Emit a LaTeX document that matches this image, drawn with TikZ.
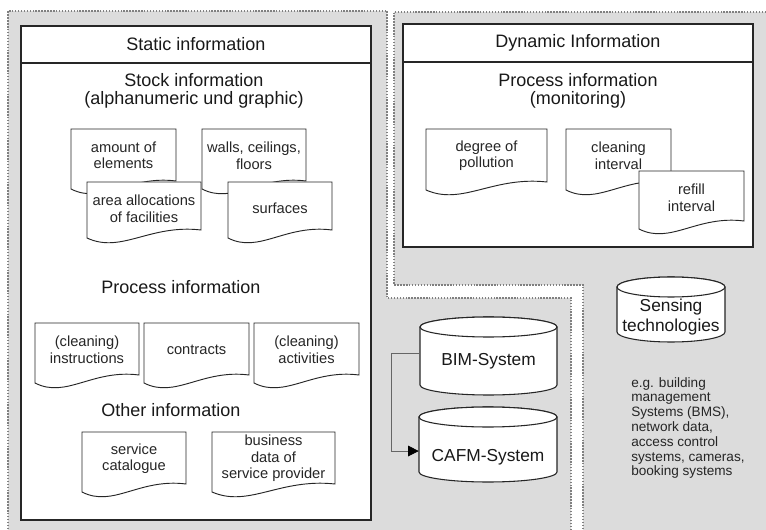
\documentclass[tikz,border=0pt]{standalone}
\usepackage{fontspec}
\setmainfont{Liberation Sans}
\usetikzlibrary{arrows.meta}

% Sheet with a wavy lower edge
% #1 name, #2 left, #3 top, #4 right, #5 bottom of right side, #6 text
\newcommand{\docsheet}[6]{%
  \filldraw[sheet] (#2,#3) -- (#4,#3) -- (#4,#5)
    .. controls ({#2+0.55*(#4-#2)},#5-6) and ({#2+0.3*(#4-#2)},#5+24) .. (#2,#5+8)
    -- cycle;
  \node[sheettext] (#1) at ({(#2+#4)/2},#3+26.5) {#6};
}

% Upright drum (database)
% #1 name, #2 left, #3 top, #4 right, #5 bottom, #6 text height, #7 text
\newcommand{\dbdrum}[7]{%
  \pgfmathsetmacro{\drumrx}{0.375*(#4-#2)}
  \filldraw[drumline] (#2,#3+10) -- (#2,#5-10)
    arc[start angle=180, end angle=360, x radius=\drumrx pt, y radius=7.5pt]
    -- (#4,#3+10)
    arc[start angle=0, end angle=180, x radius=\drumrx pt, y radius=7.5pt]
    -- cycle;
  \draw[drumline] ({(#2+#4)/2},#3+10) ellipse [x radius=\drumrx pt, y radius=7.5pt];
  \node[inner sep=0pt, minimum width={0.75pt*(#4-#2)},
        minimum height={0.75pt*(#5-#3)}] (#1) at ({(#2+#4)/2},{(#3+#5)/2}) {};
  \node[drumtext] (#1-text) at ({(#2+#4)/2},#6) {#7};
}

\definecolor{regiongray}{HTML}{DCDCDC}
\definecolor{dotgray}{HTML}{808080}

\begin{document}
\begin{tikzpicture}[x=0.75pt, y=-0.75pt,
  region/.style={fill=regiongray},
  regionedge/.style={dotgray, line width=1.4pt, dash pattern=on 1.1pt off 1.1pt},
  frame/.style={draw=black!85, fill=white, line width=1.3pt},
  sheet/.style={draw=black!85, fill=white, line width=0.7pt},
  sheettext/.style={align=center, inner sep=0pt, text=black!85,
                    font=\fontsize{11}{12.4}\selectfont},
  heading/.style={align=center, inner sep=0pt, text=black!90,
                  font=\fontsize{13.5}{13.8}\selectfont},
  drumline/.style={draw=black!85, fill=white, line width=0.8pt},
  drumtext/.style={align=center, inner sep=0pt, text=black!90,
                   font=\fontsize{13}{15}\selectfont},
  notetext/.style={align=left, inner sep=0pt, text=black!85,
                   font=\fontsize{10.2}{11.1}\selectfont},
  flow/.style={draw=black!60, line width=0.6pt,
               -{Triangle[length=8pt, width=8pt, black]}}]

\useasboundingbox (0,0) rectangle (766,530);

% The two gray areas, split by a white gap
\fill[region] (8,11) -- (387,11) -- (387,298) -- (571,298)
  -- (571,530) -- (8,530) -- cycle;
\draw[regionedge] (571,530) -- (571,298) -- (387,298) -- (387,11)
  -- (8,11) -- (8,530);
\fill[region] (394,12) -- (766,12) -- (766,530) -- (583,530)
  -- (583,285) -- (394,285) -- cycle;
\draw[regionedge] (766,12) -- (394,12) -- (394,285) -- (583,285)
  -- (583,530);

% Static information
\filldraw[frame] (21,26) rectangle (371,520);
\draw[frame] (21,63) -- (371,63);
\node[heading] (static) at (196,44) {Static information};
\node[heading] (stock) at (194,91) {Stock information\\(alphanumeric und graphic)};

\docsheet{amount}{71}{129}{176}{181}{amount of\\elements}
\docsheet{walls}{202}{129}{306}{181}{walls, ceilings,\\floors}
\docsheet{areas}{87}{182}{201}{230}{area allocations\\of facilities}
\docsheet{surfaces}{228}{182}{332}{230}{surfaces}

\node[heading] (process) at (181,287) {Process information};
\docsheet{instructions}{35}{323}{139}{375}{(cleaning)\\instructions}
\docsheet{contracts}{144}{323}{249}{375}{contracts}
\docsheet{activities}{254}{323}{359}{375}{(cleaning)\\activities}

\node[heading] (other) at (171,410) {Other information};
\docsheet{catalogue}{82}{432}{186}{484}{service\\catalogue}
\docsheet{provider}{212}{432}{335}{484}{business\\data of\\service provider}

% Dynamic information
\filldraw[frame] (403,24) rectangle (753,247);
\draw[frame] (403,62) -- (753,62);
\node[heading] (dynamic) at (578,43) {Dynamic Information};
\node[heading] (monitor) at (578,91) {Process information\\(monitoring)};

\docsheet{pollution}{426}{129}{547}{182}{degree of\\pollution}
\docsheet{cleaning}{566}{129}{671}{182}{cleaning\\interval}
\docsheet{refill}{639}{171}{744}{221}{refill\\interval}

% Systems
\dbdrum{bim}{420}{317}{557}{395}{361}{BIM-System}
\dbdrum{cafm}{419}{407}{557}{482}{457}{CAFM-System}
\dbdrum{sensing}{617}{277}{725}{342}{317}{Sensing\\technologies}

\draw[flow] ([yshift=2.2pt]bim.west) -- ++(-28,0) |- ([yshift=-4.9pt]cafm.west);

\node[notetext, anchor=west] (examples) at (631,428)
  {e.g. building\\management\\Systems (BMS),\\network data,\\access control\\systems, cameras,\\booking systems};
\end{tikzpicture}
\end{document}
